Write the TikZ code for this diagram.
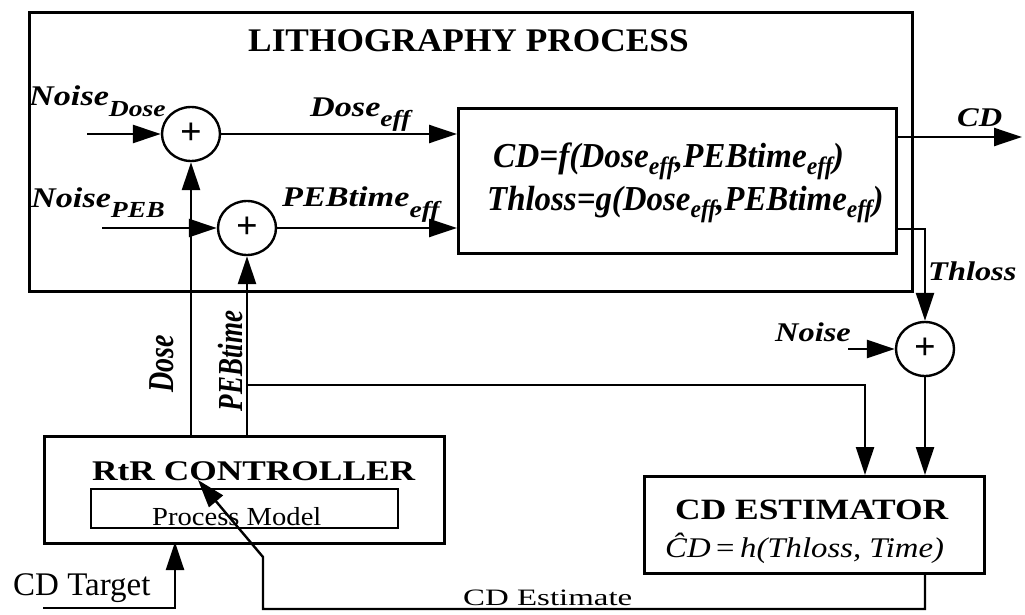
\documentclass[tikz,border=0pt]{standalone}
\usepackage{fontspec}
\setmainfont{Liberation Serif}
\usepackage{graphicx}
\usetikzlibrary{arrows.meta,shapes.geometric,calc}
\newcommand{\fs}[1]{\fontsize{#1}{#1}\selectfont}
\newcommand{\hsc}[2]{\scalebox{#1}[1]{#2}}
\newcommand{\bi}{\bfseries\itshape}
\begin{document}
\begin{tikzpicture}[x=1pt,y=-1pt,
  box/.style={draw, line width=2.8pt, inner sep=0pt, anchor=north west},
  sum/.style={draw, ellipse, line width=2.4pt, minimum width=58pt, minimum height=54pt, inner sep=0pt},
  conn/.style={line width=2.4pt},
  arr/.style={conn, -{Triangle[length=28pt,width=18pt]}},
  lbl/.style={inner sep=0pt, anchor=base west},
  rlbl/.style={inner sep=0pt, anchor=base, rotate=90}
]
\useasboundingbox (0,0) rectangle (1025,615);

% boxes
\node[box, line width=3pt, minimum width=883pt, minimum height=279pt] (litho) at (28,11) {};
\node[box, line width=2.6pt, minimum width=438pt, minimum height=145pt] (proc) at (457,107) {};
\node[box, minimum width=400pt, minimum height=107pt] (ctrl) at (43,435) {};
\node[box, line width=2.2pt, minimum width=307pt, minimum height=39pt] (model) at (90,488) {};
\node[box, minimum width=340pt, minimum height=97pt] (est) at (643,475) {};

% summing junctions
\node[sum] (sum1) at (191,134) {\raisebox{-6pt}{\fs{38}\bfseries +}};
\node[sum] (sum2) at (247,228) {\raisebox{-6pt}{\fs{38}\bfseries +}};
\node[sum] (sum3) at (925,349) {\raisebox{-6pt}{\fs{38}\bfseries +}};

% free ends
\coordinate (nDose) at (87,134);
\coordinate (nPEB) at (102,228);
\coordinate (cdEnd) at (1022,137);
\coordinate (th) at (895,229);
\coordinate (nz) at (848,349);
\coordinate (br) at (247,385);
\coordinate (e1) at (865,475);
\coordinate (fb1) at (263,609);
\coordinate (fb2) at (263,557);
\coordinate (fbTip) at (198,480);
\coordinate (ct) at (43,608);
\coordinate (ctUp) at (175,542);

% connectors
\draw[arr] (nDose) -- (sum1);
\draw[arr] (nPEB) -- (sum2);
\draw[arr] (sum1) -- (sum1 -| proc.west);
\draw[arr] (sum2) -- (sum2 -| proc.west);
\draw[arr] (ctrl.north -| sum1) -- (sum1);
\draw[arr] (ctrl.north -| sum2) -- (sum2);
\draw[arr] (proc.east |- cdEnd) -- (cdEnd);
\draw[arr] (proc.east |- th) -| (sum3);
\draw[arr] (nz) -- (sum3);
\draw[arr] (sum3) -- (sum3 |- est.north);
\draw[arr] (br) -| (e1);
\draw[arr] (est.south -| sum3) |- (fb1) -- (fb2) -- (fbTip);
\draw[arr] (ct) -| (ctUp);

% labels
\node[lbl] (tTitle) at (248,52) {\hsc{1.07}{\fs{33}\bfseries LITHOGRAPHY PROCESS}};
\node[lbl] (tNDose) at (29,106) {\hsc{1.2}{\fs{28.5}\bi Noise\raisebox{-11pt}{\fs{23}Dose}}};
\node[lbl] (tNPEB) at (31,207) {\hsc{1.2}{\fs{28.5}\bi Noise\raisebox{-10pt}{\fs{23}PEB}}};
\node[lbl] (tDeff) at (310,117) {\hsc{1.2}{\fs{28.5}\bi Dose\raisebox{-10pt}{\fs{23}eff}}};
\node[lbl] (tPeff) at (282,206) {\hsc{1.2}{\fs{28.5}\bi PEBtime\raisebox{-11pt}{\fs{23}eff}}};
\node[lbl] (tF1) at (493,167) {\hsc{0.95}{\fs{35}\bi CD=f(Dose\raisebox{-7pt}{\fs{25}eff},PEBtime\raisebox{-7pt}{\fs{25}eff})}};
\node[lbl] (tF2) at (487,210) {\hsc{0.94}{\fs{35}\bi Thloss=g(Dose\raisebox{-7pt}{\fs{25}eff},PEBtime\raisebox{-7pt}{\fs{25}eff})}};
\node[lbl] (tCD) at (957,127) {\hsc{1.2}{\fs{27}\bi CD}};
\node[lbl] (tTh) at (928,280) {\hsc{1.2}{\fs{27}\bi Thloss}};
\node[lbl] (tNz) at (775,341) {\hsc{1.2}{\fs{27}\bi Noise}};
\node[rlbl] (tDose) at (173,364) {\scalebox{1}[1.3]{\fs{28}\bi Dose}};
\node[rlbl] (tPEB) at (242,361) {\scalebox{1}[1.3]{\fs{27}\bi PEBtime}};
\node[lbl] (tCtrl) at (92,480) {\hsc{1.24}{\fs{28.5}\bfseries RtR CONTROLLER}};
\node[lbl] (tModel) at (152,525) {\hsc{1.1}{\fs{26}Process Model}};
\node[lbl] (tEst) at (675,519) {\hsc{1.2}{\fs{29.5}\bfseries CD ESTIMATOR}};
\node[lbl] (tH) at (665,557) {\hsc{1.15}{\fs{28.5}\itshape \^{C}D\,{\upshape =}\,h(Thloss, Time)}};
\node[lbl] (tTarget) at (13,595) {\hsc{1.0}{\fs{33}CD Target}};
\node[lbl] (tCDE) at (463,605) {\hsc{1.4}{\fs{23.5}CD Estimate}};
\end{tikzpicture}
\end{document}
